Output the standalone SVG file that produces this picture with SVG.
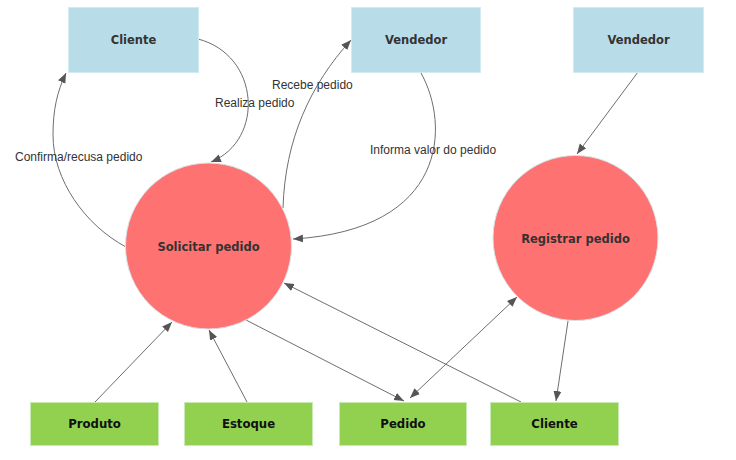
<svg xmlns="http://www.w3.org/2000/svg" width="736" height="460" viewBox="0 0 736 460">
<style>
.ext{fill:#b8dde8;stroke:#d2ebf2;stroke-width:1}
.proc{fill:#ff7272;stroke:#d6e4ea;stroke-width:1}
.store{fill:#92d050;stroke:#c8e8b4;stroke-width:1}
.nl{font-family:"DejaVu Sans",sans-serif;font-weight:bold;font-size:11.5px;fill:#333;text-anchor:middle;dominant-baseline:central}
.sl{font-family:"DejaVu Sans Condensed","DejaVu Sans",sans-serif;font-weight:bold;font-size:13px;fill:#111;text-anchor:middle;dominant-baseline:central}
.el{font-family:"Liberation Sans",Arial,sans-serif;font-size:12px;fill:#333}
.c{fill:none;stroke:#6e6e6e;stroke-width:1;marker-end:url(#ah)}
</style>
<defs>
<marker id="ah" viewBox="0 0 10 10" refX="10" refY="5" markerWidth="10" markerHeight="10" markerUnits="userSpaceOnUse" orient="auto-start-reverse">
<path d="M0,1 L10,5 L0,9 Z" fill="#555"/>
</marker>
</defs>
<g id="connectors">
<path class="c" d="M198,39 C260,55 265,140 211,162"/>
<path class="c" d="M126,247 C85,225 53,180 53,135 C53,110 57,92 66,73"/>
<path class="c" d="M283,208 C285,140 310,85 351,40"/>
<path class="c" d="M421,73 C450,125 448,230 293,239"/>
<path class="c" d="M638,72 L577,154"/>
<path class="c" d="M95,402 L172,322"/>
<path class="c" d="M247,402 L209,330"/>
<path class="c" d="M246,320 L404,401"/>
<path class="c" d="M410,398 L517,297" style="marker-start:url(#ah)"/>
<path class="c" d="M521,402 L284,283"/>
<path class="c" d="M568,321 L556,401"/>
<text class="el" x="215" y="107">Realiza pedido</text>
<text class="el" x="15" y="161">Confirma/recusa pedido</text>
<text class="el" x="272" y="89">Recebe pedido</text>
<text class="el" x="370" y="154">Informa valor do pedido</text>
</g>
<g id="cliente-top"><rect class="ext" x="68.5" y="7.5" width="130" height="65"/><text class="nl" x="133.5" y="40">Cliente</text></g>
<g id="vendedor-1"><rect class="ext" x="351.5" y="7.5" width="129" height="65"/><text class="nl" x="416" y="40">Vendedor</text></g>
<g id="vendedor-2"><rect class="ext" x="573.5" y="7.5" width="130" height="65"/><text class="nl" x="638.5" y="40">Vendedor</text></g>
<g id="solicitar-pedido"><circle class="proc" cx="208.5" cy="246" r="83"/><text class="nl" x="208.5" y="247">Solicitar pedido</text></g>
<g id="registrar-pedido"><circle class="proc" cx="575.5" cy="238" r="82.5"/><text class="nl" x="575.5" y="239">Registrar pedido</text></g>
<g id="produto"><rect class="store" x="30.5" y="402.5" width="128" height="43"/><text class="sl" x="94.5" y="423.5">Produto</text></g>
<g id="estoque"><rect class="store" x="184.5" y="402.5" width="128" height="43"/><text class="sl" x="248.5" y="423.5">Estoque</text></g>
<g id="pedido"><rect class="store" x="339.5" y="402.5" width="127" height="43"/><text class="sl" x="403" y="423.5">Pedido</text></g>
<g id="cliente-store"><rect class="store" x="490.5" y="402.5" width="128" height="43"/><text class="sl" x="554.5" y="423.5">Cliente</text></g>
</svg>
